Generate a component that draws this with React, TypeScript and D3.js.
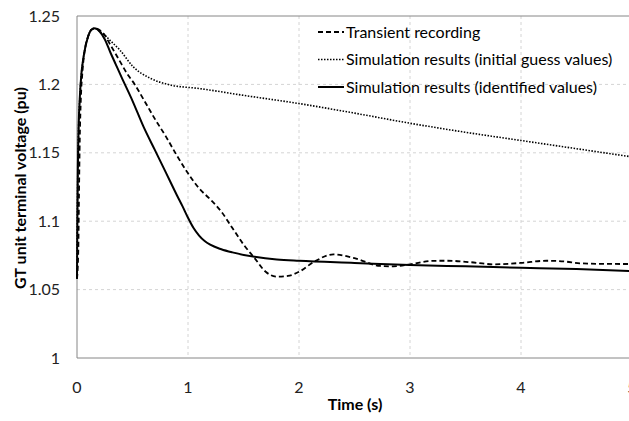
import { useEffect, useRef } from "react";
import * as d3 from "d3";

const WIDTH = 629;
const HEIGHT = 421;
const PLOT = { left: 77, right: 632, top: 16, bottom: 358 };

const X_TICKS = [0, 1, 2, 3, 4, 5];
const Y_TICKS = [1, 1.05, 1.1, 1.15, 1.2, 1.25];

// transient recording (dashed)
const REC_T = [0, 0.012, 0.018, 0.025, 0.035, 0.05, 0.07, 0.1, 0.13, 0.16, 0.2, 0.25, 0.3, 0.35, 0.4, 0.45, 0.52, 0.6, 0.7, 0.8, 0.9, 1.0, 1.1, 1.2, 1.3, 1.4, 1.5, 1.6, 1.7, 1.8, 1.9, 2.0, 2.13, 2.31, 2.5, 2.73, 2.85, 3.0, 3.2, 3.33, 3.55, 3.75, 4.0, 4.23, 4.4, 4.53, 4.75, 5.0];
const REC_V = [1.058, 1.08, 1.12, 1.16, 1.19, 1.21, 1.225, 1.235, 1.24, 1.241, 1.24, 1.236, 1.229, 1.222, 1.215, 1.208, 1.2, 1.189, 1.175, 1.162, 1.148, 1.135, 1.124, 1.116, 1.107, 1.095, 1.083, 1.073, 1.063, 1.0595, 1.06, 1.063, 1.07, 1.0758, 1.073, 1.0673, 1.067, 1.0685, 1.071, 1.0711, 1.07, 1.0685, 1.0695, 1.0711, 1.0705, 1.0692, 1.0688, 1.0687];

// simulation, initial guess values (dotted)
const INIT_T = [0, 0.003, 0.008, 0.015, 0.025, 0.04, 0.055, 0.072, 0.1, 0.13, 0.16, 0.2, 0.25, 0.3, 0.387, 0.505, 0.66, 0.84, 1.1, 1.5, 2.0, 2.5, 3.0, 3.5, 4.0, 4.5, 5.0];
const INIT_V = [1.058, 1.1, 1.14, 1.17, 1.19, 1.208, 1.218, 1.226, 1.235, 1.24, 1.241, 1.239, 1.236, 1.232, 1.225, 1.213, 1.2045, 1.1996, 1.197, 1.192, 1.186, 1.179, 1.1716, 1.165, 1.159, 1.153, 1.147];

// simulation, identified values (solid)
const IDENT_T = [0, 0.003, 0.008, 0.015, 0.025, 0.04, 0.055, 0.072, 0.1, 0.13, 0.16, 0.2, 0.25, 0.3, 0.35, 0.4, 0.5, 0.6, 0.7, 0.8, 0.9, 0.95, 1.0, 1.05, 1.1, 1.15, 1.2, 1.3, 1.4, 1.6, 1.8, 2.0, 2.5, 3.0, 3.5, 4.0, 4.5, 5.0];
const IDENT_V = [1.058, 1.1, 1.14, 1.17, 1.19, 1.208, 1.218, 1.226, 1.235, 1.24, 1.241, 1.239, 1.233, 1.2235, 1.2145, 1.2055, 1.188, 1.1689, 1.1523, 1.1357, 1.119, 1.111, 1.1025, 1.095, 1.0895, 1.0855, 1.0828, 1.0795, 1.0772, 1.074, 1.072, 1.071, 1.0695, 1.068, 1.067, 1.066, 1.065, 1.0636];

const SERIES = [
  { name: "Transient recording", t: REC_T, v: REC_V, width: 1.8, dash: "5,3" },
  { name: "Simulation results (initial guess values)", t: INIT_T, v: INIT_V, width: 1.6, dash: "1.5,1.5" },
  { name: "Simulation results (identified values)", t: IDENT_T, v: IDENT_V, width: 2, dash: null },
];

const FONT = "Lato, 'Open Sans', sans-serif";
const AXIS_COLOR = "#868686";
const GRID_COLOR = "#d4d4d4";

export default function App() {
  const ref = useRef<SVGSVGElement>(null);

  useEffect(() => {
    const svg = d3.select(ref.current);
    svg.selectAll("*").remove();

    const x = d3.scaleLinear().domain([0, 5]).range([PLOT.left, PLOT.right]);
    const y = d3.scaleLinear().domain([1, 1.25]).range([PLOT.bottom, PLOT.top]);

    // grid
    const grid = svg.append("g");
    X_TICKS.slice(1).forEach((t) => {
      grid.append("line")
        .attr("x1", x(t)).attr("x2", x(t))
        .attr("y1", PLOT.top).attr("y2", PLOT.bottom)
        .attr("stroke", GRID_COLOR).attr("stroke-dasharray", "3,3");
    });
    Y_TICKS.slice(1, -1).forEach((v) => {
      grid.append("line")
        .attr("x1", PLOT.left).attr("x2", PLOT.right)
        .attr("y1", y(v)).attr("y2", y(v))
        .attr("stroke", GRID_COLOR).attr("stroke-dasharray", "3,3");
    });

    // frame
    svg.append("line")
      .attr("x1", PLOT.left).attr("x2", PLOT.right)
      .attr("y1", y(1.25)).attr("y2", y(1.25))
      .attr("stroke", AXIS_COLOR);
    svg.append("line")
      .attr("x1", PLOT.left).attr("x2", PLOT.right)
      .attr("y1", y(1)).attr("y2", y(1))
      .attr("stroke", AXIS_COLOR);
    svg.append("line")
      .attr("x1", x(0)).attr("x2", x(0))
      .attr("y1", PLOT.top).attr("y2", PLOT.bottom)
      .attr("stroke", AXIS_COLOR);

    // tick labels
    svg.append("g").selectAll("text").data(Y_TICKS).join("text")
      .attr("x", 60).attr("y", (d) => y(d) + 5.5)
      .attr("text-anchor", "end")
      .attr("font-family", FONT).attr("font-size", 16).attr("fill", "#222")
      .text((d) => String(d));
    svg.append("g").selectAll("text").data(X_TICKS).join("text")
      .attr("x", (d) => x(d)).attr("y", 393)
      .attr("text-anchor", "middle")
      .attr("font-family", FONT).attr("font-size", 16).attr("fill", "#222")
      .text((d) => String(d));

    // axis titles
    svg.append("text")
      .attr("x", 355).attr("y", 410)
      .attr("text-anchor", "middle")
      .attr("font-family", FONT).attr("font-size", 16).attr("font-weight", "bold")
      .text("Time (s)");
    svg.append("text")
      .attr("transform", "translate(26,188) rotate(-90)")
      .attr("text-anchor", "middle")
      .attr("font-family", FONT).attr("font-size", 16).attr("font-weight", "bold")
      .text("GT unit terminal voltage (pu)");

    // curves
    const line = d3.line<[number, number]>()
      .x((d) => x(d[0]))
      .y((d) => y(d[1]))
      .curve(d3.curveMonotoneX);

    SERIES.forEach((s) => {
      const pts = s.t.map((t, i) => [t, s.v[i]] as [number, number]);
      svg.append("path")
        .attr("d", line(pts))
        .attr("fill", "none")
        .attr("stroke", "#000")
        .attr("stroke-width", s.width)
        .attr("stroke-dasharray", s.dash);
    });

    // legend
    const legend = svg.append("g").attr("transform", "translate(318,32)");
    SERIES.forEach((s, i) => {
      const row = legend.append("g").attr("transform", `translate(0,${i * 27.5})`);
      row.append("line")
        .attr("x1", 0).attr("x2", 26)
        .attr("y1", 0).attr("y2", 0)
        .attr("stroke", "#000")
        .attr("stroke-width", s.width)
        .attr("stroke-dasharray", s.dash);
      row.append("text")
        .attr("x", 28).attr("y", 5.5)
        .attr("font-family", FONT).attr("font-size", 16).attr("fill", "#000")
        .text(s.name);
    });
  }, []);

  return (
    <svg
      ref={ref}
      width={WIDTH}
      height={HEIGHT}
      style={{ position: "absolute", left: 0, top: 0, background: "#fff" }}
    />
  );
}
